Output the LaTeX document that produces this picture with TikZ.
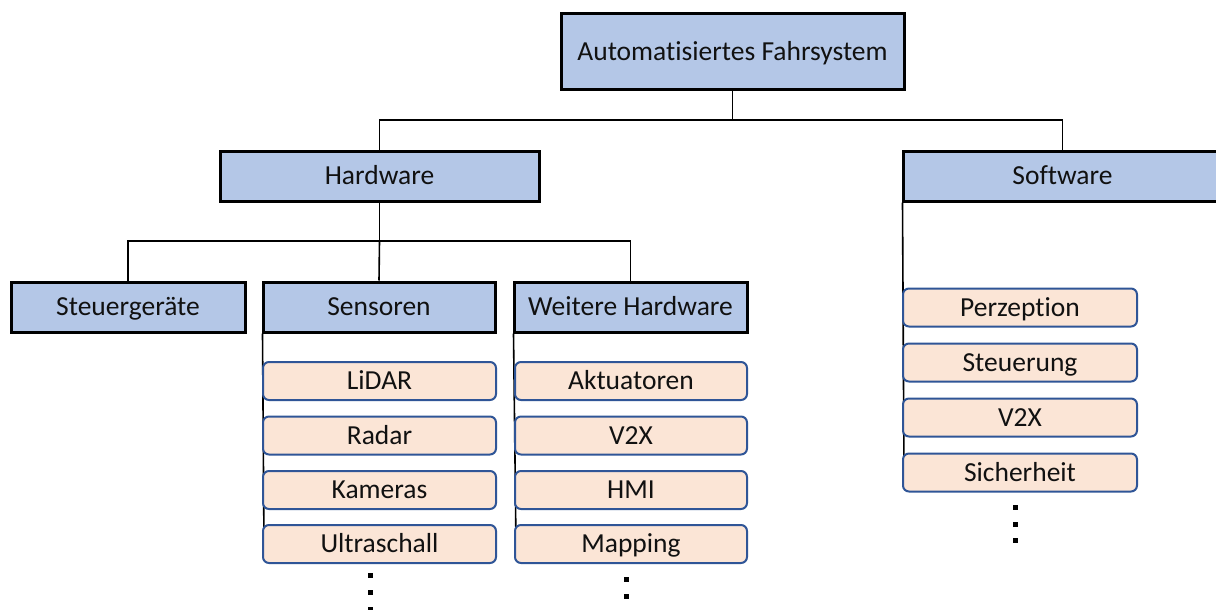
\documentclass[tikz,border=0pt]{standalone}
\usepackage{fontspec}
\setmainfont{Carlito}[Ligatures=NoCommon]
\definecolor{boxblue}{HTML}{B4C7E7}
\definecolor{itemfill}{HTML}{FBE5D6}
\definecolor{itemline}{HTML}{2F5597}
\definecolor{txt}{HTML}{111111}
\begin{document}
\begin{tikzpicture}[x=1pt,y=-1pt,
  every node/.style={font=\fontsize{27.5}{32}\selectfont, text=txt, inner sep=0pt, text height=17.7pt, text depth=0pt},
  mainbox/.style={draw=black, line width=3pt, fill=boxblue, minimum height=50pt},
  itembox/.style={draw=itemline, line width=2pt, fill=itemfill, rounded corners=6pt, minimum height=38pt},
  conn/.style={draw=black, line width=1.6pt},
  dotsq/.style={fill=black, minimum width=5pt, minimum height=5pt, text height=0pt}]
\clip (0,0) rectangle (1216,610);
\fill[white] (0,0) rectangle (1216,610);

% main boxes
\node[mainbox, minimum width=343pt, minimum height=76pt] (top) at (732.5,52) {Automatisiertes Fahrsystem};
\node[mainbox, minimum width=319pt] (hw) at (379.5,176) {Hardware};
\node[mainbox, minimum width=319pt] (sw) at (1062.5,176) {Software};
\node[mainbox, minimum width=234pt] (steuer) at (128,307) {Steuergeräte};
\node[mainbox, minimum width=232pt] (sens) at (379,307) {Sensoren};
\node[mainbox, minimum width=233pt] (weit) at (630.5,307) {Weitere Hardware};

% connectors
\coordinate (j1) at (732.5,120);
\coordinate (j2) at (379.5,241);
\draw[conn] (top.south) -- (j1);
\draw[conn] (hw.north) |- (j1) -| (sw.north);
\draw[conn] (hw.south) -- (j2);
\draw[conn] (steuer.north) |- (j2) -| (weit.north);
\draw[conn] (j2) -- (sens.north);

% item node positions
\path
  coordinate (lidar) at (379.5,381)
  coordinate (radar) at (379.5,435.5)
  coordinate (kam) at (379.5,490)
  coordinate (ultraC) at (379.5,544)
  coordinate (akt) at (631,381)
  coordinate (vx) at (631,435.5)
  coordinate (hmi) at (631,490)
  coordinate (mapC) at (631,544)
  coordinate (perz) at (1020,307.5)
  coordinate (steu) at (1020,362.5)
  coordinate (svx) at (1020,417.5)
  coordinate (sichC) at (1020,472.5);

% vertical bus lines (behind items)
\draw[conn] ([xshift=1pt]sens.south west) -- ([xshift=-115.5pt]ultraC);
\draw[conn] ([xshift=1pt]weit.south west) -- ([xshift=-115pt]mapC);
\draw[conn] ([xshift=1pt]sw.south west) -- ([xshift=-116pt]sichC);

% items
\node[itembox, minimum width=233pt] (n-lidar) at (lidar) {LiDAR};
\node[itembox, minimum width=233pt] (n-radar) at (radar) {Radar};
\node[itembox, minimum width=233pt] (n-kam) at (kam) {Kameras};
\node[itembox, minimum width=233pt] (ultra) at (ultraC) {Ultraschall};
\node[itembox, minimum width=232pt] (n-akt) at (akt) {Aktuatoren};
\node[itembox, minimum width=232pt] (n-vx) at (vx) {V2X};
\node[itembox, minimum width=232pt] (n-hmi) at (hmi) {HMI};
\node[itembox, minimum width=232pt] (map) at (mapC) {Mapping};
\node[itembox, minimum width=234pt] (n-perz) at (perz) {Perzeption};
\node[itembox, minimum width=234pt] (n-steu) at (steu) {Steuerung};
\node[itembox, minimum width=234pt] (n-svx) at (svx) {V2X};
\node[itembox, minimum width=234pt] (sich) at (sichC) {Sicherheit};

% dots
\node[dotsq] (sd1) at (370.5,575.5) {};
\node[dotsq] (sd2) at (370.5,592.5) {};
\node[dotsq] (sd3) at (370.5,609) {};
\node[dotsq] (wd1) at (626.5,579.5) {};
\node[dotsq] (wd2) at (626.5,596.5) {};
\node[dotsq] (wd3) at (626.5,612) {};
\node[dotsq] (fd1) at (1015.5,507.5) {};
\node[dotsq] (fd2) at (1015.5,524.5) {};
\node[dotsq] (fd3) at (1015.5,540.5) {};
\end{tikzpicture}
\end{document}
